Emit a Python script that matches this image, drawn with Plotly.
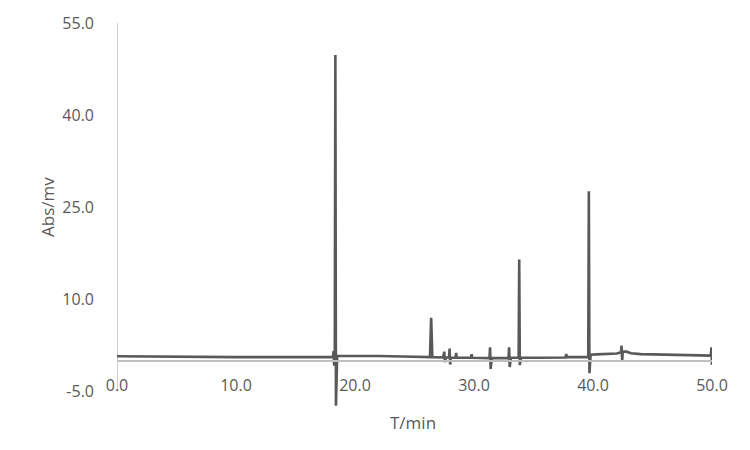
import plotly.graph_objects as go

# 保留時間 (min) 與訊號 (mv)
time_min = [
    0.0, 2.0, 4.0, 6.0, 8.0, 10.0, 12.0, 14.0, 16.0, 17.8,
    18.15, 18.2, 18.25, 18.3, 18.35, 18.4, 18.45, 18.5, 18.55,
    20.0, 22.0, 24.0, 26.3,
    26.4, 26.45, 26.5,
    27.4, 27.5, 27.55, 27.6, 27.65,
    27.9, 27.95, 28.0, 28.05, 28.1,
    28.45, 28.5, 28.55,
    29.75, 29.8, 29.85,
    31.3, 31.35, 31.4, 31.45, 31.5,
    32.9, 32.95, 33.0, 33.05, 33.1,
    33.75, 33.8, 33.85, 33.9, 33.95,
    35.5, 37.7, 37.75, 37.8,
    39.6, 39.65, 39.7, 39.75, 39.8,
    40.3, 41.5, 42.0, 42.35, 42.4, 42.45, 42.5,
    42.8, 43.2, 44.0, 46.0, 48.0, 49.9, 49.95, 50.0,
]
signal_mv = [
    0.75, 0.7, 0.7, 0.65, 0.65, 0.6, 0.6, 0.6, 0.6, 0.6,
    0.6, 1.6, -0.8, 0.6, 49.8, -7.3, 0.6, 0.8, 0.8,
    0.85, 0.8, 0.7, 0.6,
    7.0, 0.6, 0.6,
    0.55, 1.5, -0.2, 0.55, 0.55,
    0.55, 2.0, -0.6, 0.55, 0.5,
    0.5, 1.3, 0.5,
    0.5, 1.1, 0.5,
    0.45, 2.2, -1.3, 0.45, 0.45,
    0.45, 2.2, -1.0, 0.45, 0.5,
    0.5, 16.5, -0.7, 0.5, 0.5,
    0.5, 0.55, 1.1, 0.6,
    0.6, 27.6, -2.0, 0.6, 1.0,
    1.05, 1.15, 1.2, 1.4, 2.5, -0.1, 1.5,
    1.5, 1.25, 1.1, 1.0, 0.9, 0.85, 2.2, -0.65,
]

y_ticks = [-5, 10, 25, 40, 55]
x_ticks = [0, 10, 20, 30, 40, 50]

axis_gray = '#bfbfbf'
text_gray = '#595959'
font_family = 'Open Sans, Liberation Sans, sans-serif'

y_lo, y_hi = -8, 55

# 版面邊界（頁面 body 有 8px 邊距，已扣除）
m_l, m_r, m_t, m_b = 109, 46, 15, 48
plot_w = 750 - m_l - m_r
plot_h = 450 - m_t - m_b


def px_to_paper(px, py):
    return (px - m_l) / plot_w, (450 - m_b - py) / plot_h


fig = go.Figure()

fig.add_trace(go.Scatter(
    x=time_min, y=signal_mv, mode='lines',
    line=dict(color='#595959', width=2.6),
    showlegend=False, hoverinfo='skip',
))

# y 軸線（只畫 -5 到 55）
fig.add_shape(type='line', xref='x', yref='y', x0=0, x1=0, y0=-5, y1=55,
              line=dict(color=axis_gray, width=1.5), layer='below')

ax_x, ax_y = px_to_paper(39, 199)
tx_x, tx_y = px_to_paper(405, 414)

fig.update_layout(
    width=750, height=450,
    margin=dict(l=m_l, r=m_r, t=m_t, b=m_b),
    paper_bgcolor='white', plot_bgcolor='white',
    font=dict(family=font_family, color=text_gray, size=15),
    xaxis=dict(
        range=[0, 50], tickvals=x_ticks, ticktext=[f'{v:.1f}' for v in x_ticks],
        showgrid=False, zeroline=False,
        showline=True, linecolor=axis_gray, linewidth=2,
        anchor='free', position=(0 - y_lo) / (y_hi - y_lo),
        ticks='', ticklabelstandoff=10, automargin=False,
        tickfont=dict(size=16, color=text_gray),
    ),
    yaxis=dict(
        range=[y_lo, y_hi], tickvals=y_ticks, ticktext=[f'{v:.1f}' for v in y_ticks],
        showgrid=False, zeroline=False, showline=False,
        ticks='', ticklabelstandoff=22, automargin=False,
        tickfont=dict(size=16, color=text_gray),
    ),
    annotations=[
        dict(text='Abs/mv', x=ax_x, y=ax_y, xref='paper', yref='paper',
             xanchor='center', yanchor='middle',
             showarrow=False, textangle=-90, font=dict(size=17, color=text_gray)),
        dict(text='T/min', x=tx_x, y=tx_y, xref='paper', yref='paper',
             xanchor='center', yanchor='middle',
             showarrow=False, font=dict(size=17, color=text_gray)),
    ],
)

fig.write_html("out.html")
